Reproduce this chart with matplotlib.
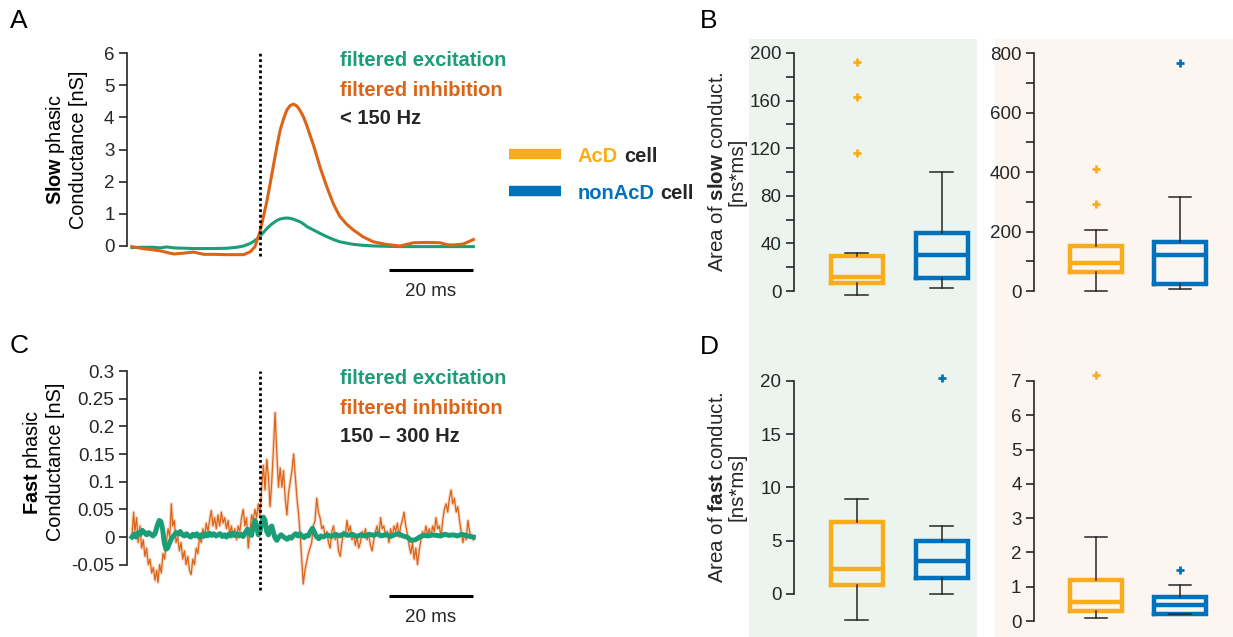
import numpy as np
import matplotlib
matplotlib.use("Agg")
import matplotlib.pyplot as plt
from matplotlib.lines import Line2D
from matplotlib.patches import Rectangle

plt.rcParams['font.family'] = ['Liberation Sans', 'DejaVu Sans']
plt.rcParams['mathtext.fontset'] = 'custom'
plt.rcParams['mathtext.rm'] = 'Liberation Sans'
plt.rcParams['mathtext.bf'] = 'Liberation Sans:bold'
plt.rcParams['mathtext.it'] = 'Liberation Sans:italic'
plt.rcParams['mathtext.sf'] = 'Liberation Sans'

# ---- data -----------------------------------------------------------------
# panel A: slow phasic conductance (nS), time in ms relative to stimulus
slow_t = [-30.5, -28, -25.5, -23.8, -22.2, -20.5, -18, -15.8, -13.4, -11, -7.9, -5.5,
          -3.9, -2.3, -1.2, 0, 0.8, 1.7, 2.5, 3.3, 4.1, 4.8, 5.6, 6.4, 7.2, 8.0, 8.8,
          9.6, 10.4, 11.2, 12.7, 14.3, 15.9, 17.5, 19.0, 20.6, 22.2, 24.6, 27.0, 30,
          33.3, 35, 36.5, 39.7, 42.9, 44.5, 46.0, 48.4, 50.8]
slow_inh = [-0.02, -0.08, -0.12, -0.15, -0.2, -0.25, -0.22, -0.19, -0.26, -0.26, -0.27,
            -0.27, -0.27, -0.18, -0.02, 0.45, 0.9, 1.43, 2.0, 2.58, 3.15, 3.6, 3.95,
            4.23, 4.37, 4.41, 4.35, 4.2, 4.0, 3.72, 3.15, 2.45, 1.84, 1.3, 0.92, 0.68,
            0.5, 0.28, 0.13, 0.05, 0.0, 0.05, 0.1, 0.11, 0.1, 0.04, 0.03, 0.06, 0.2]
slow_exc = [-0.05, -0.04, -0.04, -0.06, -0.03, -0.06, -0.07, -0.08, -0.08, -0.08, -0.07,
            -0.04, 0.0, 0.08, 0.17, 0.3, 0.42, 0.55, 0.65, 0.73, 0.8, 0.84, 0.86, 0.87,
            0.86, 0.83, 0.79, 0.75, 0.68, 0.6, 0.5, 0.39, 0.29, 0.2, 0.13, 0.09, 0.05,
            0.02, 0.0, -0.01, -0.02, -0.02, -0.02, -0.02, -0.02, -0.02, -0.02, -0.02, -0.02]

# panel C: fast phasic conductance (nS)
fast_inh_t = [-30.5, -30.1, -29.8, -29.4, -29.0, -28.6, -28.2, -27.8, -27.4, -27.0, -26.6,
              -26.2, -25.8, -25.4, -25.0, -24.6, -24.3, -23.9, -23.5, -23.1, -22.7, -22.3,
              -21.9, -21.5, -21.1, -20.8, -20.4, -20.0, -19.6, -19.2, -18.8, -18.4, -18.0,
              -17.6, -17.2, -16.8, -16.4, -16.0, -15.6, -15.2, -14.8, -14.4, -14.0, -13.6,
              -13.2, -12.8, -12.4, -12.0, -11.6, -11.2, -10.8, -10.4, -10.0, -9.6, -9.2,
              -8.8, -8.4, -8.0, -7.6, -7.2, -6.8, -6.4, -6.0, -5.6, -5.2, -4.8, -4.4, -4.0,
              -3.6, -3.2, -2.8, -2.4, -2.0, -1.6, -1.2, -0.8, -0.4, 0.0, 0.4, 0.8, 1.2, 1.6,
              2.0, 2.4, 2.8, 3.2, 3.6, 4.0, 4.4, 4.8, 5.2, 5.6, 6.0, 6.4, 6.8, 7.2, 7.6, 8.0,
              8.4, 8.8, 9.2, 9.6, 10.0, 10.3, 10.7, 11.1, 11.5, 11.9, 12.3, 12.7, 13.1, 13.5,
              13.9, 14.3, 14.7, 15.1, 15.5, 15.9, 16.3, 16.7, 17.1, 17.5, 17.9, 18.3, 18.7,
              19.1, 19.5, 19.9, 20.3, 20.7, 21.1, 21.5, 21.9, 22.3, 22.7, 23.1, 23.5, 23.9,
              24.3, 24.7, 25.1, 25.5, 25.9, 26.3, 26.7, 27.1, 27.5, 27.9, 28.3, 28.7, 29.1,
              29.5, 29.9, 30.3, 30.7, 31.1, 31.5, 31.9, 32.3, 32.7, 33.1, 33.5, 33.9, 34.3,
              34.7, 35.1, 35.5, 35.9, 36.3, 36.7, 37.1, 37.5, 37.9, 38.3, 38.7, 39.1, 39.5,
              39.9, 40.3, 40.7, 41.1, 41.5, 41.9, 42.3, 42.7, 43.1, 43.5, 43.9, 44.3, 44.7,
              45.1, 45.5, 45.9, 46.3, 46.7, 47.1, 47.5, 47.9, 48.3, 48.7, 49.1, 49.5, 49.9,
              50.3, 50.8]
fast_inh = [0.0, 0.045, 0.01, 0.035, -0.01, 0.02, -0.02, -0.005, -0.035, -0.02, -0.05,
            -0.04, -0.065, -0.055, -0.078, -0.06, -0.082, -0.05, -0.065, -0.03, -0.04, -0.01,
            0.015, 0.0, 0.06, 0.02, 0.03, -0.01, 0.0, -0.025, -0.01, -0.04, -0.025,
            -0.05, -0.035, -0.06, -0.068, -0.04, -0.05, -0.02, -0.03, 0.0, -0.01, 0.015,
            0.0, 0.025, 0.01, 0.03, 0.048, 0.02, 0.035, 0.015, 0.04, 0.02, 0.045,
            0.025, 0.035, 0.015, 0.03, 0.005, 0.02, 0.0, 0.015, -0.005, 0.02, 0.01, 0.035, 0.05,
            0.02, 0.035, -0.02, 0.01, 0.04, 0.03, 0.05, 0.035, 0.06, 0.04, 0.09, 0.13, 0.085, 0.14,
            0.11, 0.055, 0.1, 0.16, 0.225, 0.15, 0.09, 0.125, 0.09, 0.12, 0.07, 0.04, 0.08, 0.1, 0.12, 0.15,
            0.11, 0.07, 0.04, 0.0, -0.05, -0.085, -0.06, -0.045, -0.03, -0.02, -0.01, 0.02, 0.03, 0.07,
            0.045, 0.035, 0.015, 0.02, 0.0, 0.01, -0.01, -0.02, 0.01, 0.02, -0.005, 0.005, -0.025,
            -0.035, -0.01, 0.01, 0.0, 0.03, 0.01, 0.02, -0.005, 0.005, -0.015, 0.0, -0.02, -0.01,
            0.01, 0.0, 0.015, -0.005, 0.005, -0.015, -0.025, -0.005, 0.01, 0.02, 0.0, 0.035, 0.015,
            0.02, 0.0, 0.01, -0.01, 0.015, 0.0, 0.02, 0.01, 0.025, 0.0, 0.02, 0.03, 0.045,
            0.02, 0.005, -0.015, -0.03, -0.01, -0.04, -0.02, -0.05, -0.025, -0.005, 0.01, 0.0, 0.02,
            0.005, 0.015, 0.0, 0.02, 0.01, 0.035, 0.015, 0.02, 0.0, 0.03, 0.05, 0.06, 0.045,
            0.07, 0.085, 0.06, 0.07, 0.045, 0.055, 0.03, 0.01, -0.01, 0.005, -0.005, 0.03, 0.01,
            0.0, -0.005]
fast_exc_t = [-30.5, -30.0, -29.5, -29.0, -28.5, -28.0, -27.5, -27.0, -26.5, -26.0, -25.5,
              -25.0, -24.5, -24.0, -23.6, -23.2, -22.8, -22.4, -22.0, -21.5, -21.0, -20.5,
              -20.0, -19.5, -19.0, -18.5, -18.0, -17.5, -17.0, -16.5, -16.0, -15.5, -15.0,
              -14.5, -14.0, -13.5, -13.0, -12.5, -12.0, -11.5, -11.0, -10.5, -10.0, -9.5,
              -9.0, -8.5, -8.0, -7.5, -7.0, -6.5, -6.0, -5.5, -5.0, -4.5, -4.0, -3.5, -3.0,
              -2.5, -2.0, -1.6, -1.2, -0.8, -0.4, 0.0, 0.4, 0.8, 1.2, 1.6, 2.0, 2.4, 2.8, 3.2,
              3.6, 4.0, 4.5, 5.0, 5.5, 6.0, 6.5, 7.0, 7.5, 8.0, 8.5, 9.0, 9.5, 10.0, 10.5, 11.0,
              11.5, 12.0, 12.5, 13.0, 13.5, 14.0, 14.5, 15.0, 16, 17, 18, 19, 20, 21, 22, 23, 24,
              25, 26, 27, 28, 29, 30, 31, 32, 33, 34, 35, 36, 37, 38, 39, 40, 41, 42, 43, 44,
              45, 46, 47, 48, 49, 50, 50.8]
fast_exc = [0.0, 0.005, 0.0, 0.008, 0.005, 0.012, 0.008, 0.004, 0.008, 0.005, 0.002,
            0.006, 0.02, 0.03, 0.028, 0.015, -0.01, -0.022, -0.02, -0.01, -0.002, 0.003,
            0.008, 0.005, 0.01, 0.004, 0.002, 0.006, 0.002, 0.0, 0.005, 0.002, 0.006,
            0.0, 0.004, 0.001, 0.006, 0.002, 0.007, 0.003, 0.006, 0.002, 0.004, 0.006,
            0.001, 0.004, 0.0, 0.005, 0.002, 0.007, 0.003, 0.006, 0.002, 0.005, 0.001, 0.008, 0.014,
            0.005, 0.003, 0.02, 0.03, 0.02, 0.004, 0.01, 0.025, 0.036, 0.03, 0.01, 0.004, 0.016, 0.02, 0.008,
            -0.002, -0.006, 0.0, 0.004, 0.001, -0.002, -0.004, 0.0, -0.002, 0.003, 0.006, 0.002, 0.006, 0.002, -0.001, 0.003,
            0.002, 0.01, 0.016, 0.008, 0.0, -0.003, 0.002, 0.0, 0.004, 0.001, 0.005, 0.002, 0.006, 0.003, 0.005, 0.001, 0.004,
            0.002, 0.005, 0.003, 0.006, 0.002, 0.005, 0.001, 0.004, 0.006, 0.002, 0.0, -0.006, -0.005, 0.0, 0.003, 0.002, 0.004, 0.003, 0.002, 0.005,
            0.003, 0.004, 0.002, 0.005, 0.003, 0.001, 0.0]

# panels B, D: box plot summary stats (q1, median, q3, whiskers, outliers)
cells = ['AcD', 'nonAcD']
slow_left = [dict(q1=7, med=12, q3=29.5, whislo=-3.3, whishi=31.8, fliers=[192, 162.6, 116.3]),
             dict(q1=11.2, med=30, q3=49, whislo=2.2, whishi=100.4, fliers=[])]
slow_right = [dict(q1=63.6, med=94.9, q3=150.7, whislo=0, whishi=205, fliers=[409.6, 292.4]),
              dict(q1=24.5, med=120.5, q3=165, whislo=7.8, whishi=317, fliers=[766.7])]
fast_left = [dict(q1=0.8, med=2.37, q3=6.8, whislo=-2.46, whishi=8.95, fliers=[]),
             dict(q1=1.5, med=3.09, q3=4.96, whislo=0, whishi=6.43, fliers=[20.3])]
fast_right = [dict(q1=0.3, med=0.56, q3=1.19, whislo=0.1, whishi=2.46, fliers=[7.18]),
              dict(q1=0.22, med=0.47, q3=0.71, whislo=0.2, whishi=1.05, fliers=[1.5])]

# ---- style -------------------------------------------------------------------
W, H = 1233, 637
c_exc = '#1b9e77'
c_inh = '#dc6418'
c_acd = '#f9ad1d'
c_non = '#0072bd'
ink = '#262626'
fs = 13.5
fs_lab = 14.3

fig = plt.figure(figsize=(W / 100, H / 100), dpi=100)


def add_ax(l, t, r, b):
    ax = fig.add_axes([l / W, 1 - b / H, (r - l) / W, (b - t) / H])
    ax.set_facecolor('none')
    return ax


def ftext(x, y, s, **kw):
    return fig.text(x / W, 1 - y / H, s, **kw)


# coloured backgrounds for the box plot columns
fig.add_artist(Rectangle((749 / W, 0), (977 - 749) / W, 1 - 39 / H, transform=fig.transFigure,
                         facecolor='#ebf4ee', edgecolor='none', zorder=0))
fig.add_artist(Rectangle((995 / W, 0), (W - 995) / W, 1 - 39 / H, transform=fig.transFigure,
                         facecolor='#fcf5f0', edgecolor='none', zorder=0))


def style_left(ax, lo, hi, ticks, labels=None):
    for s in ['top', 'right', 'bottom']:
        ax.spines[s].set_visible(False)
    ax.spines['left'].set_bounds(lo, hi)
    ax.spines['left'].set_color(ink)
    ax.spines['left'].set_linewidth(1.2)
    ax.set_xticks([])
    ax.set_yticks(ticks)
    if labels is not None:
        ax.set_yticklabels(labels)
    ax.tick_params(axis='y', direction='out', length=6, width=1.2, color=ink,
                   labelsize=fs, labelcolor=ink, pad=3)


# ---- panel A -----------------------------------------------------------------
axA = add_ax(127, 45, 476, 300)
axA.plot(slow_t, slow_exc, color=c_exc, lw=2.2, zorder=3)
axA.plot(slow_t, slow_inh, color=c_inh, lw=2.2, zorder=3)
axA.plot([0, 0], [-0.31, 6.0], color='black', lw=2, ls=(0, (1, 1)), zorder=4)
axA.plot([30.7, 50.7], [-0.75, -0.75], color='black', lw=2.2, solid_capstyle='butt')
axA.text(40.7, -1.43, '20 ms', ha='center', va='center', fontsize=fs, color=ink)
axA.set_xlim(-31.67, 51.43)
axA.set_ylim(-1.68, 6.25)
style_left(axA, 0, 6, range(0, 7))

ftext(340, 61, 'filtered excitation', color=c_exc, fontsize=14.5, fontweight='bold', va='center')
ftext(340, 90, 'filtered inhibition', color=c_inh, fontsize=14.5, fontweight='bold', va='center')
ftext(340, 119, '< 150 Hz', color=ink, fontsize=14.5, fontweight='bold', va='center')
ftext(66, 150, r'$\bf{Slow}$ phasic' + '\nConductance [nS]', rotation=90, ha='center',
      va='center', multialignment='center', fontsize=fs_lab, color='black', linespacing=1.1)

# ---- panel C -----------------------------------------------------------------
axC = add_ax(127, 360, 476, 625)
axC.plot(fast_inh_t, fast_inh, color=c_inh, lw=2.4, alpha=0.25, zorder=2)
axC.plot(fast_inh_t, fast_inh, color=c_inh, lw=0.9, zorder=2)
axC.plot(fast_exc_t, fast_exc, color=c_exc, lw=3.6, zorder=3)
axC.plot([0, 0], [-0.096, 0.3], color='black', lw=2, ls=(0, (1, 1)), zorder=4)
axC.plot([30.7, 50.7], [-0.107, -0.107], color='black', lw=2.2, solid_capstyle='butt')
axC.text(40.7, -0.145, '20 ms', ha='center', va='center', fontsize=fs, color=ink)
axC.set_xlim(-31.67, 51.43)
axC.set_ylim(-0.159, 0.32)
style_left(axC, -0.05, 0.3, [-0.05, 0, 0.05, 0.1, 0.15, 0.2, 0.25, 0.3],
           ['-0.05', '0', '0.05', '0.1', '0.15', '0.2', '0.25', '0.3'])

ftext(340, 379, 'filtered excitation', color=c_exc, fontsize=14.5, fontweight='bold', va='center')
ftext(340, 408, 'filtered inhibition', color=c_inh, fontsize=14.5, fontweight='bold', va='center')
ftext(340, 437, '150 \u2013 300 Hz', color=ink, fontsize=14.5, fontweight='bold', va='center')
ftext(43, 462, r'$\bf{Fast}$ phasic' + '\nConductance [nS]', rotation=90, ha='center',
      va='center', multialignment='center', fontsize=fs_lab, color='black', linespacing=1.1)

# ---- legend ------------------------------------------------------------------
for y, name, col in [(154, 'AcD', c_acd), (191, 'nonAcD', c_non)]:
    fig.add_artist(Line2D([509 / W, 561 / W], [1 - y / H, 1 - y / H], color=col, lw=7.5,
                          solid_capstyle='butt', transform=fig.transFigure))
    t1 = ftext(578, y + 8, name, color=col, fontsize=14.5, fontweight='bold', va='baseline')
    axA.annotate('cell', xy=(1, 0), xycoords=t1, xytext=(4, 0), textcoords='offset points',
                 va='bottom', ha='left', fontsize=14.5, fontweight='bold', color=ink,
                 annotation_clip=False)


# ---- panels B and D ----------------------------------------------------------
def boxes(ax, stats):
    for pos, st, col in zip([1, 2], stats, [c_acd, c_non]):
        ax.bxp([st], positions=[pos], widths=0.61, capwidths=0.27, manage_ticks=False,
               boxprops=dict(color=col, linewidth=3.2, solid_joinstyle='miter'),
               medianprops=dict(color=col, linewidth=3.2, solid_capstyle='butt'),
               whiskerprops=dict(color=ink, linewidth=1.1),
               capprops=dict(color=ink, linewidth=1.1),
               flierprops=dict(marker='+', markeredgecolor=col, markersize=6, markeredgewidth=2))


axB1 = add_ax(794, 45, 975, 300)
boxes(axB1, slow_left)
axB1.set_xlim(0.259, 2.39)
axB1.set_ylim(-7.56, 206.7)
style_left(axB1, 0, 200, range(0, 201, 20),
           [str(v) if v % 40 == 0 else '' for v in range(0, 201, 20)])

axB2 = add_ax(1034, 45, 1225, 300)
boxes(axB2, slow_right)
axB2.set_xlim(0.262, 2.536)
axB2.set_ylim(-30.25, 826.9)
style_left(axB2, 0, 800, range(0, 801, 100),
           [str(v) if v % 200 == 0 else '' for v in range(0, 801, 100)])

axD1 = add_ax(794, 370, 975, 630)
boxes(axD1, fast_left)
axD1.set_xlim(0.259, 2.39)
axD1.set_ylim(-3.38, 21.03)
style_left(axD1, 0, 20, range(0, 21, 5))

axD2 = add_ax(1034, 370, 1225, 630)
boxes(axD2, fast_right)
axD2.set_xlim(0.262, 2.536)
axD2.set_ylim(-0.26, 7.32)
style_left(axD2, 0, 7, range(0, 8))

ftext(727, 172, r'Area of $\bf{slow}$ conduct.' + '\n[ns*ms]', rotation=90, ha='center',
      va='center', multialignment='center', fontsize=fs_lab + 0.5, color=ink, linespacing=1.05)
ftext(727, 487, r'Area of $\bf{fast}$ conduct.' + '\n[ns*ms]', rotation=90, ha='center',
      va='center', multialignment='center', fontsize=fs_lab + 0.5, color=ink, linespacing=1.05)

# ---- panel letters -------------------------------------------------------------
for x, y, s in [(10, 21, 'A'), (10, 346, 'C'), (700, 21, 'B'), (700, 347, 'D')]:
    ftext(x, y, s, fontsize=19, color='black', va='center', ha='left')

fig.savefig('out.png', dpi=100)
